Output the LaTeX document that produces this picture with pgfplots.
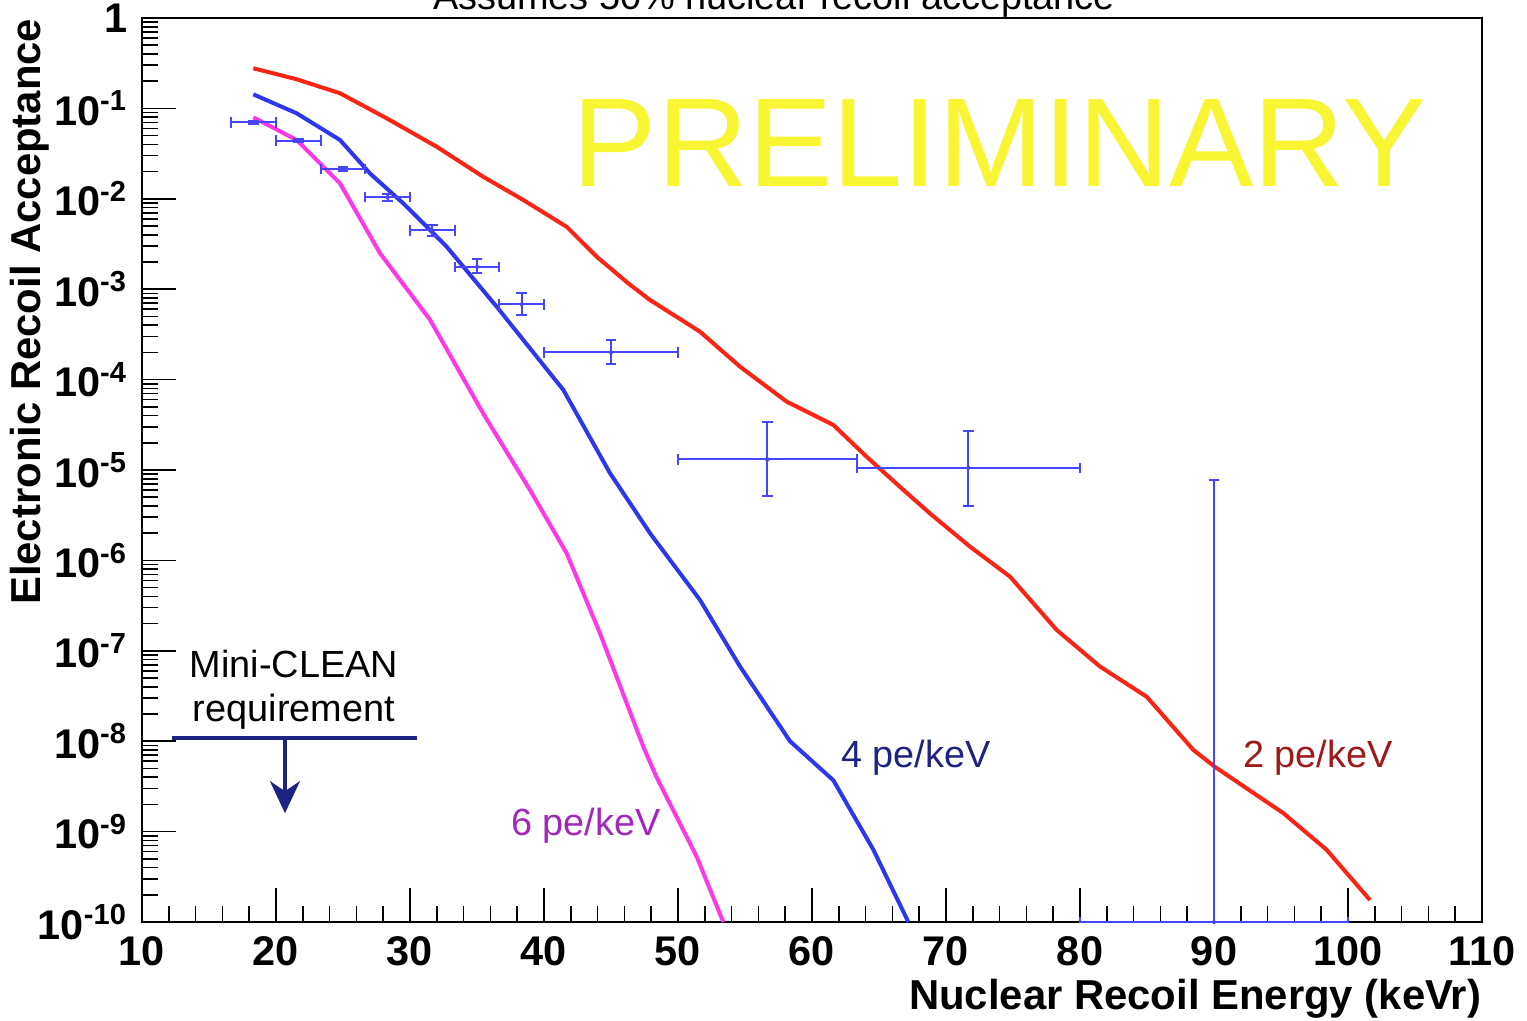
\documentclass[border=0pt]{standalone}
\usepackage{pgfplots}
\pgfplotsset{compat=1.18}
\usepackage{pgfplotstable}
\usepackage{fontspec}
\setmainfont{Liberation Sans}
\usetikzlibrary{arrows.meta}

\definecolor{rootred}{RGB}{250,35,20}
\definecolor{rootblue}{RGB}{45,55,240}
\definecolor{rootmag}{RGB}{255,55,230}
\definecolor{ptblue}{RGB}{70,70,255}
\definecolor{navytxt}{RGB}{30,35,130}
\definecolor{darkredtxt}{RGB}{160,25,25}
\definecolor{purpletxt}{RGB}{160,40,190}
\definecolor{prelim}{RGB}{248,245,50}

% measured ER leakage points (bins of 3.33 keVr, then wider)
\pgfplotstableread{
x      y        ex     eyp      eym
18.33  0.070    1.667  0.0030   0.0030
21.67  0.044    1.667  0.0020   0.0020
25.00  0.0215   1.667  0.0012   0.0012
28.33  0.0104   1.667  0.0009   0.0009
31.67  0.00448  1.667  0.0006   0.0006
35.00  0.00177  1.667  0.00039  0.00027
38.33  0.00068  1.667  0.00022  0.000166
45.00  0.000200 5.0    0.000074 0.000051
56.67  1.31e-5  6.667  2.11e-5  7.95e-6
71.67  1.06e-5  8.333  1.66e-5  6.57e-6
90.00  1e-10    10.0   7.7e-6   0
}\datapts

% 2 pe/keV
\pgfplotstableread{
x y
18.31 0.278
21.54 0.210
24.78 0.147
28.26 0.0777
31.99 0.0377
35.47 0.0175
38.46 0.0097
41.69 0.0049
43.93 0.00229
46.29 0.00116
47.91 7.6e-4
51.64 3.39e-4
54.63 1.39e-4
58.11 5.7e-5
61.59 3.15e-5
64.08 1.40e-5
66.57 6.5e-6
68.81 3.3e-6
71.79 1.42e-6
74.78 6.6e-7
78.26 1.70e-7
81.49 6.7e-8
84.98 3.1e-8
88.46 8.0e-9
90.07 5.2e-9
95.17 1.6e-9
98.40 6.3e-10
101.64 1.75e-10
}\twope

% 4 pe/keV
\pgfplotstableread{
x y
18.31 0.143
21.54 0.0883
24.78 0.0447
27.01 0.0191
29.50 0.0089
32.74 0.00295
36.47 6.4e-4
41.44 7.7e-5
44.93 9.2e-6
47.91 2.0e-6
51.64 3.65e-7
54.63 6.7e-8
58.36 1.0e-8
61.59 3.7e-9
64.58 6.3e-10
67.19 1.0e-10
}\fourpe

% 6 pe/keV
\pgfplotstableread{
x y
18.31 0.0797
21.54 0.0447
24.78 0.0148
27.76 2.5e-3
31.49 4.6e-4
35.47 4.2e-5
38.96 6.0e-6
41.69 1.2e-6
44.18 1.56e-7
47.41 8.7e-9
48.40 4.0e-9
51.39 5.3e-10
53.38 1.0e-10
}\sixpe

\begin{document}
\begin{tikzpicture}
\begin{axis}[
  scale only axis, width=335bp, height=226bp,
  xmin=10, xmax=110, ymode=log, ymin=1e-10, ymax=1,
  axis line style={line width=0.5bp},
  tick pos=left, tick align=inside,
  xtick={10,20,...,110}, minor x tick num=4,
  ytick={1e-10,1e-9,1e-8,1e-7,1e-6,1e-5,1e-4,1e-3,1e-2,1e-1,1},
  yticklabels={10\textsuperscript{-10},10\textsuperscript{-9},10\textsuperscript{-8},10\textsuperscript{-7},10\textsuperscript{-6},10\textsuperscript{-5},10\textsuperscript{-4},10\textsuperscript{-3},10\textsuperscript{-2},10\textsuperscript{-1},1},
  major tick length=8.5bp, minor tick length=4bp,
  every tick/.style={black, line width=0.4bp},
  tick label style={font=\fontsize{10.4}{12}\selectfont\bfseries},
  /pgf/number format/assume math mode=true,
  xlabel={Nuclear Recoil Energy (keVr)},
  ylabel={Electronic Recoil Acceptance},
  label style={font=\fontsize{10.5}{12}\selectfont\bfseries, inner sep=0pt},
  xlabel style={at={(axis description cs:1,-0.062)}, anchor=north east},
  ylabel style={at={(axis description cs:-0.0687,1)}, anchor=south east},
  title={Assumes 50\% nuclear recoil acceptance},
  every axis title/.style={at={(axis description cs:0.4716,1)}, anchor=base, yshift=2.2bp,
    font=\fontsize{9.5}{11}\selectfont, inner sep=0pt},
]
\node[text=prelim, font=\fontsize{31.7}{34}\selectfont] at (axis cs:74.03,0.0414) {PRELIMINARY};

\addplot[rootred, line width=1bp, line join=round] table[x=x,y=y] {\twope};
\addplot[rootblue, line width=1bp, line join=round] table[x=x,y=y] {\fourpe};
\addplot[rootmag, line width=1bp, line join=round] table[x=x,y=y] {\sixpe};

\addplot[ptblue, only marks, mark=*, mark size=0.4bp,
  error bars/.cd, x dir=both, x explicit, y dir=both, y explicit,
  error bar style={line width=0.5bp, ptblue},
  error mark=-,
  error mark options={rotate=90, mark size=1.3bp, line width=0.5bp, ptblue}]
  table[x=x, y=y, x error=ex, y error plus=eyp, y error minus=eym] {\datapts};

% Mini-CLEAN requirement
\addplot[navytxt, line width=0.9bp] coordinates {(12.24,1.08e-8) (30.52,1.08e-8)};
\addplot[navytxt, line width=0.9bp, -{Stealth[length=8bp, width=7.5bp, inset=2.5bp]}]
  coordinates {(20.67,1.08e-8) (20.67,1.6e-9)};

\node[align=center, font=\fontsize{9.5}{11}\selectfont, inner sep=0pt] at (axis cs:21.34,3.7e-8) {Mini-CLEAN\\requirement};
\node[text=purpletxt, font=\fontsize{9.5}{11}\selectfont] at (axis cs:43.13,1.15e-9) {6 pe/keV};
\node[text=navytxt, font=\fontsize{9.5}{11}\selectfont] at (axis cs:67.76,6.5e-9) {4 pe/keV};
\node[text=darkredtxt, font=\fontsize{9.5}{11}\selectfont] at (axis cs:97.76,6.5e-9) {2 pe/keV};
\end{axis}
\pgfresetboundingbox
\path[use as bounding box] ([shift={(-35.5bp,-24.75bp)}]current axis.south west) rectangle ([shift={(11.25bp,4.5bp)}]current axis.north east);
\end{tikzpicture}
\end{document}
